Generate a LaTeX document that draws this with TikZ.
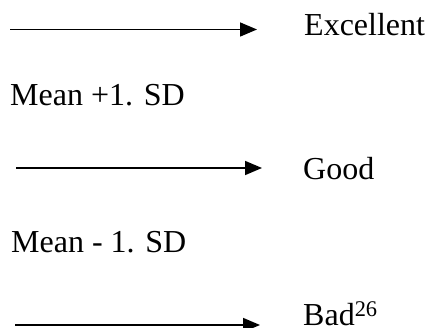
\documentclass[tikz,border=0pt]{standalone}
\usepackage{fontspec}
\setmainfont{Liberation Serif}
\usetikzlibrary{arrows.meta}
\begin{document}
\begin{tikzpicture}[x=1pt,y=1pt,
  lbl/.style={anchor=base west,inner sep=0pt,font=\fontsize{32}{36}\selectfont},
  arr/.style={line width=1.6pt,-{Triangle[length=17pt,width=14pt]}}]
\useasboundingbox (0,0) rectangle (430,328);
\node[lbl] (ex) at (304,292) {Excellent};
\node[lbl] (mp) at (10,222) {Mean +1. SD};
\node[lbl] (gd) at (303,148) {Good};
\node[lbl] (mm) at (11,75) {Mean - 1. SD};
\node[lbl] (bd) at (303,2.5) {Bad\textsuperscript{26}};
\coordinate (a1s) at (10,298.5);
\coordinate (a1e) at (257,298.5);
\coordinate (a2s) at (16,160);
\coordinate (a2e) at (262,160);
\coordinate (a3s) at (15,3);
\coordinate (a3e) at (260,3);
\draw[arr] (a1s) -- (a1e);
\draw[arr] (a2s) -- (a2e);
\draw[arr] (a3s) -- (a3e);
\end{tikzpicture}
\end{document}
